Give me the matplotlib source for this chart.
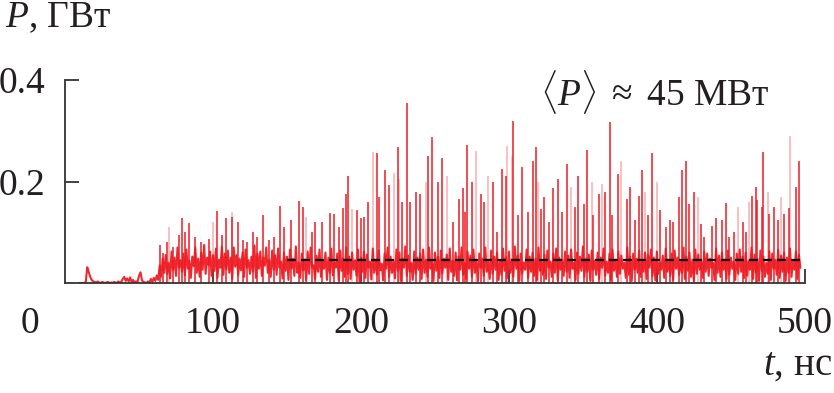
import numpy as np
import matplotlib
matplotlib.use("Agg")
import matplotlib.pyplot as plt

plt.rcParams['font.family'] = ['Liberation Serif', 'DejaVu Serif']
plt.rcParams['mathtext.fontset'] = 'custom'
plt.rcParams['mathtext.rm'] = 'Liberation Serif'
plt.rcParams['mathtext.it'] = 'Liberation Serif:italic'

# базовый шумовой сигнал, МВт, шаг 1 нс начиная с t = 10 нс
t_start = 10
p_base_mw = [
    0, 0, 0, 0, 2, 31, 22, 12, 6, 3,
    2, 1, 3, 1, 0, 2, 1, 0, 1, 2,
    0, 1, 0, 2, 1, 0, 3, 1, 2, 8,
    12, 4, 9, 3, 11, 2, 6, 1, 3, 2,
    14, 21, 5, 2, 1, 0, 3, 1, 8, 2,
    10, 4, 15, 6, 35, 12, 48, 20, 55, 18,
    40, 9, 62, 25, 50, 14, 70, 30, 45, 22,
    58, 15, 66, 28, 44, 10, 52, 33, 70, 20,
    48, 12, 60, 26, 75, 18, 50, 35, 62, 14,
    55, 24, 68, 10, 46, 30, 72, 16, 58, 27,
    64, 20, 50, 8, 70, 32, 55, 15, 48, 25,
    60, 12, 66, 30, 45, 18, 52, 22, 74, 10,
    58, 28, 62, 14, 50, 34, 70, 20, 46, 12,
    64, 26, 55, 16, 68, 30, 42, 9, 60, 24,
    52, 6, 66, 28, 48, 14, 72, 20, 40, 10,
    58, 25, 46, 4, 62, 18, 70, 30, 35, 8,
    54, 22, 66, 12, 44, 28, 60, 6, 50, 20,
    68, 15, 40, 30, 58, 5, 64, 24, 48, 12,
    70, 18, 52, 8, 60, 26, 45, 14, 66, 3,
    50, 22, 62, 10, 56, 30, 42, 7, 68, 20,
    46, 16, 64, 25, 38, 5, 58, 28, 70, 12,
    52, 20, 44, 9, 66, 24, 60, 4, 48, 30,
    72, 14, 54, 22, 40, 6, 62, 18, 50, 26,
    58, 8, 66, 20, 46, 12, 70, 28, 42, 4,
    60, 24, 52, 10, 64, 18, 48, 30, 56, 6,
    68, 22, 44, 14, 60, 5, 52, 26, 70, 16,
    40, 8, 62, 28, 54, 12, 66, 20, 46, 3,
    58, 30, 48, 14, 70, 22, 42, 8, 64, 18,
    52, 26, 60, 6, 44, 16, 68, 24, 50, 10,
    62, 20, 46, 12, 72, 28, 54, 4, 58, 18,
    40, 26, 66, 10, 52, 22, 60, 14, 48, 6,
    70, 24, 44, 16, 56, 8, 64, 30, 42, 12,
    58, 20, 68, 5, 50, 26, 46, 14, 62, 22,
    54, 10, 66, 28, 40, 6, 60, 18, 52, 24,
    72, 12, 48, 22, 56, 4, 64, 26, 44, 16,
    60, 8, 50, 30, 68, 14, 42, 20, 58, 6,
    66, 24, 46, 12, 62, 18, 54, 28, 40, 10,
    70, 16, 52, 4, 58, 26, 48, 20, 64, 12,
    44, 22, 60, 8, 56, 30, 66, 14, 50, 5,
    62, 18, 40, 26, 54, 10, 68, 22, 46, 14,
    58, 6, 64, 28, 50, 16, 42, 20, 70, 8,
    52, 24, 60, 12, 46, 4, 66, 18, 56, 26,
    44, 10, 62, 22, 58, 14, 48, 30, 40, 6,
    68, 20, 54, 12, 60, 26, 46, 8, 64, 16,
    50, 28, 42, 6, 58, 18, 66, 22, 52, 10,
    60, 14, 44, 26, 70, 8, 56, 20, 48, 4,
    64, 24, 52, 12, 40, 18, 62, 6, 58, 28,
    46, 16, 66, 10, 54, 22, 60, 4, 50, 20,
    68, 12, 44, 26, 62, 8, 56, 30,
]

# яркие выбросы (t, нс; P, МВт)
spike_t = [64, 66, 69, 73, 77, 79, 81, 84, 88, 92, 97, 103, 106, 109, 113, 117, 120, 123,
           127, 130, 134, 138, 141, 145, 148, 153, 158, 161, 167, 169, 174, 179, 182, 185,
           188, 190, 191, 197, 200, 202, 205, 211, 212, 216, 219, 225, 228, 231, 233, 237,
           240, 245, 248, 252, 255, 262, 266, 269, 270, 272, 275, 281, 283, 289, 292, 295,
           298, 303, 306, 309, 313, 316, 318, 322, 324, 327, 330, 333, 336, 339, 345, 347,
           351, 353, 357, 361, 365, 368, 370, 374, 380, 382, 385, 388, 390, 394, 397, 402,
           406, 409, 411, 415, 417, 420, 422, 425, 430, 432, 437, 440, 444, 447, 449, 452,
           458, 460, 464, 467, 468, 471, 472, 476, 479, 482, 486, 489, 494, 496]
spike_p = [75, 60, 80, 70, 95, 128, 100, 118, 90, 80, 87, 142, 95, 128, 130, 120, 85, 80,
           100, 90, 134, 85, 90, 152, 110, 125, 162, 150, 100, 120, 120, 138, 137, 110,
           148, 175, 210, 144, 128, 130, 160, 256, 170, 222, 193, 268, 160, 354, 160, 180,
           175, 250, 288, 200, 246, 120, 165, 187, 140, 272, 200, 175, 160, 200, 100, 225,
           210, 320, 135, 228, 140, 240, 268, 145, 170, 120, 187, 205, 140, 234, 150, 210,
           155, 262, 135, 175, 180, 317, 135, 215, 165, 190, 125, 172, 222, 135, 256, 143,
           110, 125, 120, 170, 222, 240, 155, 180, 117, 90, 113, 128, 124, 158, 90, 100,
           120, 100, 172, 190, 163, 150, 258, 137, 150, 125, 137, 148, 190, 240]

# бледные выбросы
faint_t = [70, 100, 113, 163, 194, 208, 222, 226, 244, 258, 278, 286, 299, 302, 320, 342,
           356, 363, 376, 392, 400, 428, 455, 462, 475, 484, 490]
faint_p = [110, 120, 140, 130, 145, 258, 216, 205, 200, 210, 260, 210, 270, 250, 200, 190,
           200, 195, 240, 180, 200, 170, 150, 160, 180, 170, 290]

mean_p = 0.045
mean_t = [150, 498]

red = '#ed1c24'
dark = '#333333'

t_base = t_start + np.arange(len(p_base_mw))
p_base = np.array(p_base_mw) / 1000

fig = plt.figure(figsize=(8.34, 3.93), dpi=100)
ax = fig.add_axes([0.078, 0.28, 0.887, 0.516])

ax.vlines(faint_t, 0, np.array(faint_p) / 1000, color=red, alpha=0.3, lw=1.3)
ax.vlines(spike_t, 0, np.array(spike_p) / 1000, color=red, alpha=0.85, lw=1.3)
ax.plot(t_base, p_base, color=red, lw=1.5, alpha=0.95)
ax.plot(mean_t, [mean_p, mean_p], color='black', lw=1.6, dashes=(4, 2.3))

ax.set_xlim(0, 500)
ax.set_ylim(0, 0.4)
ax.spines['top'].set_visible(False)
ax.spines['right'].set_visible(False)
for s in ['left', 'bottom']:
    ax.spines[s].set_color(dark)
    ax.spines[s].set_linewidth(1.3)
ax.set_xticks([100, 200, 300, 400, 500])
ax.set_yticks([0.2, 0.4])
ax.set_yticklabels(['0.2', '0.4'])
ax.tick_params(axis='both', direction='in', color=dark, width=1.3,
               labelsize=27, labelcolor='#231f20')
ax.tick_params(axis='x', length=10, pad=17)
ax.tick_params(axis='y', length=10, pad=14)

ax.annotate('0', xy=(0, 0), xycoords=('data', 'axes fraction'),
            xytext=(-25, -17), textcoords='offset points', ha='center', va='top',
            fontsize=27, color='#231f20')
fig.text(0.006, 0.955, '$P$, ГВт', fontsize=27, va='center', color='#231f20')
fig.text(0.998, 0.07, '$t$, нс', fontsize=28, va='center', ha='right', color='#231f20')
ax.text(0.952, 0.94, r'$\langle P\rangle\;\approx$ 45 МВт', transform=ax.transAxes,
        fontsize=27, ha='right', va='center', color='#231f20')

fig.savefig('out.png', dpi=100)
